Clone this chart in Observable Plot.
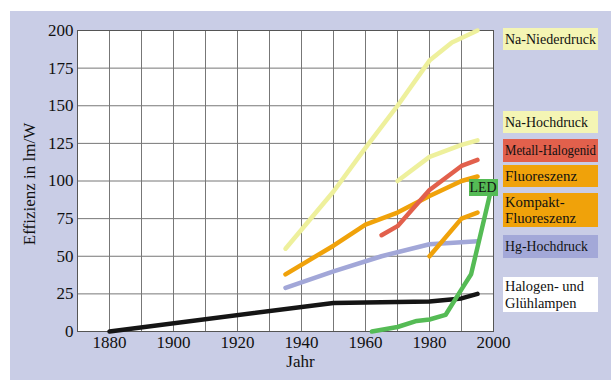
<!DOCTYPE html>
<html><head><meta charset="utf-8">
<script src="https://cdn.jsdelivr.net/npm/d3@7"></script>
<script src="https://cdn.jsdelivr.net/npm/@observablehq/plot@0.6"></script>
<style>
body{margin:0;background:#fff;font-family:"Liberation Serif","Times New Roman",serif;}
#bg{position:absolute;left:10px;top:11px;width:601px;height:369px;background:#c9cde6;}
#chart{position:absolute;left:0;top:0;}
.lab{position:absolute;left:503px;width:95px;box-sizing:border-box;padding:0 2px;font-size:15.5px;line-height:16.5px;color:#111;display:flex;align-items:center;white-space:nowrap;overflow:visible;}
.lab span{display:inline-block;transform-origin:0 50%;}
</style></head>
<body>
<div id="bg"></div>
<div id="chart"></div>
<script>
const FONT = '"Liberation Serif","Times New Roman",serif';
const xTicks = [1880,1900,1920,1940,1960,1980,2000];
const yTicks = [0,25,50,75,100,125,150,175,200];
const xGrid = [1870,1880,1890,1900,1910,1920,1930,1940,1950,1960,1970,1980,1990,2000];

const naNiederYears = [1935,1950,1960,1970,1980,1987,1995];
const naNiederVals  = [55,93,122,150,180,192,200];
const naHochYears = [1970,1980,1990,1995];
const naHochVals  = [100,116,124,127];
const metallYears = [1965,1970,1975,1980,1985,1990,1995];
const metallVals  = [64,70,82,94,102,110,114];
const fluorYears = [1935,1950,1960,1970,1980,1990,1995];
const fluorVals  = [38,57,71,79,90,100,103];
const kompaktYears = [1980,1990,1995];
const kompaktVals  = [50,75,79];
const hgYears = [1935,1950,1965,1980,1995];
const hgVals  = [29,40,50,58,60];
const halogenYears = [1880,1950,1980,1990,1995];
const halogenVals  = [0,19,20,22,25];
const ledYears = [1962,1970,1976,1980,1985,1990,1993,1996,1999];
const ledVals  = [0,3,7,8,11,28,38,65,92];

const series = [
  {name:"Na-Niederdruck", years:naNiederYears, vals:naNiederVals, color:"#eef09c"},
  {name:"Na-Hochdruck", years:naHochYears, vals:naHochVals, color:"#eef09c"},
  {name:"Hg-Hochdruck", years:hgYears, vals:hgVals, color:"#a2a7d8"},
  {name:"Fluoreszenz", years:fluorYears, vals:fluorVals, color:"#f0a20a"},
  {name:"Kompakt-Fluoreszenz", years:kompaktYears, vals:kompaktVals, color:"#f0a20a"},
  {name:"Metall-Halogenid", years:metallYears, vals:metallVals, color:"#e2604c"},
  {name:"Halogen- und Glühlampen", years:halogenYears, vals:halogenVals, color:"#151515"},
  {name:"LED", years:ledYears, vals:ledVals, color:"#55bb55"}
];

const lineMarks = series.map(s => Plot.line(s.years.map((y,i)=>({x:y,y:s.vals[i]})), {
  x:"x", y:"y", stroke:s.color, strokeWidth:4.5, strokeLinecap:"round", strokeLinejoin:"round", curve:"linear"
}));

const plot = Plot.plot({
  width:611, height:382,
  marginLeft:77, marginRight:118, marginTop:30, marginBottom:51,
  style:{background:"transparent", fontFamily:FONT, fontSize:"17px", color:"#111"},
  x:{domain:[1870,2000]},
  y:{domain:[0,200]},
  marks:[
    Plot.frame({fill:"white", stroke:null}),
    Plot.gridX(xGrid, {stroke:"#777", strokeOpacity:1, strokeWidth:1}),
    Plot.gridY(yTicks, {stroke:"#777", strokeOpacity:1, strokeWidth:1}),
    Plot.frame({stroke:"#555", strokeWidth:1}),
    Plot.axisX(xTicks, {tickSize:0, tickPadding:4, label:null, tickFormat:d=>String(d), fontSize:17}),
    Plot.axisY(yTicks, {tickSize:0, tickPadding:4, label:null, fontSize:17}),
    ...lineMarks,
    Plot.text(["Effizienz in lm/W"], {frameAnchor:"left", textAnchor:"middle", dx:-48, dy:3, rotate:-90, fontSize:17, fill:"#111"}),
    Plot.text(["Jahr"], {frameAnchor:"bottom", textAnchor:"middle", dx:15, dy:35, fontSize:17, fill:"#111"})
  ]
});
document.getElementById("chart").appendChild(plot);

const cv = document.createElement("canvas").getContext("2d");
cv.font = '15.5px ' + FONT;
const fit = (lines, target) => Math.min(1, target / Math.max(...lines.map(t => cv.measureText(t).width)));

const labels = [
  {t:["Na-Niederdruck"], w:91, top:28, h:22, bg:"#f4f5b4"},
  {t:["Na-Hochdruck"], w:83, top:111, h:22, bg:"#f4f5b4"},
  {t:["Metall-Halogenid"], w:91, top:139, h:23, bg:"#e2604c"},
  {t:["Fluoreszenz"], w:72, top:165, h:22, bg:"#f0a20a"},
  {t:["Kompakt-","Fluoreszenz"], w:71, top:193, h:34, bg:"#f0a20a"},
  {t:["Hg-Hochdruck"], w:83, top:235, h:23, bg:"#a3a8d8"},
  {t:["Halogen- und","Glühlampen"], w:79, top:277, h:35, bg:"#ffffff"}
];
for (const l of labels) {
  const d = document.createElement("div");
  d.className = "lab";
  d.style.top = l.top+"px"; d.style.height = l.h+"px"; d.style.background = l.bg;
  d.innerHTML = '<span style="transform:scaleX('+fit(l.t, l.w)+')">'+l.t.join("<br>")+"</span>";
  document.body.appendChild(d);
}
const led = document.createElement("div");
led.className = "lab";
led.style.cssText = "left:469px;top:179px;width:29px;height:17px;background:#55bb55;padding:0 1px;justify-content:center;";
led.innerHTML = '<span style="transform:scaleX('+fit(["LED"],27)+');transform-origin:50% 50%">LED</span>';
document.body.appendChild(led);
</script>
</body></html>
